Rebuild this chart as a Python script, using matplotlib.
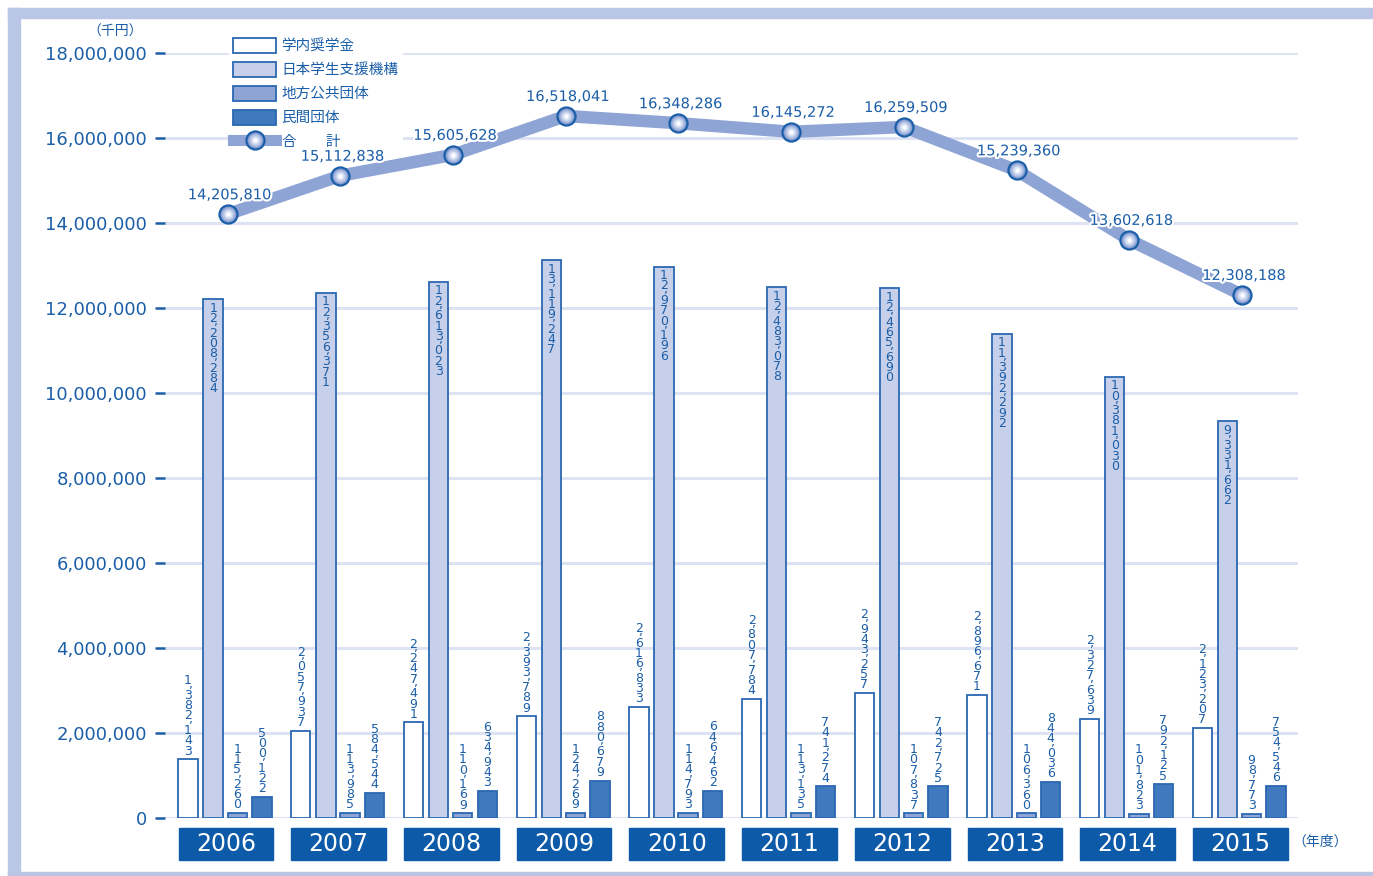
import matplotlib
matplotlib.use("Agg")
import matplotlib.pyplot as plt
from matplotlib.patches import Rectangle, Patch
from matplotlib.lines import Line2D
from matplotlib.legend_handler import HandlerTuple
import matplotlib.patheffects as pe
import matplotlib.transforms as mtransforms

plt.rcParams["font.family"] = ["DejaVu Sans", "Noto Sans CJK JP"]

# データ（千円）
years = ["2006", "2007", "2008", "2009", "2010", "2011", "2012", "2013", "2014", "2015"]
gakunai = [1382143, 2057937, 2247491, 2393789, 2616833, 2807784, 2943257, 2896671, 2327639, 2123207]
jasso = [12208284, 12356371, 12613023, 13119247, 12970196, 12483078, 12465690, 11392292, 10381030, 9331662]
chiho = [115260, 113985, 110169, 124269, 114793, 113135, 107837, 106360, 101823, 98773]
minkan = [500122, 584544, 634943, 880679, 646462, 741274, 742725, 844036, 792125, 754546]
total = [14205810, 15112838, 15605628, 16518041, 16348286, 16145272, 16259509, 15239360, 13602618, 12308188]

series_names = ["学内奨学金", "日本学生支援機構", "地方公共団体", "民間団体"]
total_name = "合\u3000\u3000計"

BLUE = "#1b5ea8"
EDGE = "#2a68b2"
FILLS = ["#ffffff", "#c6d0ea", "#8ea4d5", "#4179be"]
LINE_C = "#8ea4d5"
GRID_C = "#dde3f2"
FRAME_C = "#b9c6e6"
YEARBOX_C = "#0c5aa8"


def stacked_label(ax, x, y, s, inside=False):
    """数字を縦に一文字ずつ積む"""
    steps = [4.5 if c == "," else 10.2 for c in s]
    cur = -3 if inside else 4 + sum(steps)
    for c, st in zip(s, steps):
        if c == ",":
            ax.annotate(c, (x, y), xytext=(2.5, cur - 2.5), textcoords="offset pixels",
                        ha="center", va="baseline", fontsize=9, color=BLUE, zorder=3)
        else:
            ax.annotate(c, (x, y), xytext=(0, cur - 9.5), textcoords="offset pixels",
                        ha="center", va="baseline", fontsize=9, color=BLUE, zorder=3)
        cur -= st


fig = plt.figure(figsize=(13.73, 8.76), dpi=100)

# 外枠
fig.patches.append(Rectangle((8 / 1373, 1 - 18 / 876), 1, 10 / 876, transform=fig.transFigure,
                             color=FRAME_C, zorder=0))
fig.patches.append(Rectangle((8 / 1373, 0), 12 / 1373, 1 - 8 / 876, transform=fig.transFigure,
                             color=FRAME_C, zorder=0))
fig.patches.append(Rectangle((8 / 1373, 0), 1, 4 / 876, transform=fig.transFigure,
                             color=FRAME_C, zorder=0))

ax = fig.add_axes([165 / 1373, 58 / 876, 1133 / 1373, 765 / 876])
ax.set_xlim(-0.541, 9.512)
ax.set_ylim(0, 18000000)
for sp in ax.spines.values():
    sp.set_visible(False)

yt = list(range(0, 18000001, 2000000))
ax.set_yticks(yt)
ax.set_yticklabels([f"{v:,}" for v in yt], fontsize=13, color=BLUE)
ax.tick_params(axis="y", length=7, width=1.8, color=BLUE, pad=6)
ax.set_xticks([])
for v in yt:
    ax.axhline(v, color=GRID_C, lw=2.2, zorder=0)

# 棒グラフ
offsets = [-0.336, -0.114, 0.101, 0.318]
width = 0.172
data = [gakunai, jasso, chiho, minkan]
for k, vals in enumerate(data):
    xs = [i + offsets[k] for i in range(len(years))]
    ax.bar(xs, vals, width=width, color=FILLS[k], edgecolor=EDGE, linewidth=1.3, zorder=2)
    for x, v in zip(xs, vals):
        stacked_label(ax, x, v, f"{v:,}", inside=(k == 1))

# 合計の折れ線
xl = [i + 0.015 for i in range(len(years))]
ax.plot(xl, total, color=LINE_C, lw=9, solid_capstyle="butt", zorder=3)
marker_layers = [(13, "#8aa1d3", BLUE, 1.6), (9, "#b4c3e6", "none", 0), (6, "#dae2f4", "none", 0),
                 (3, "#ffffff", "none", 0)]
for ms, fc, ec, mew in marker_layers:
    ax.plot(xl, total, ls="none", marker="o", ms=ms, mfc=fc, mec=ec, mew=mew, zorder=4)
for x, v in zip(xl, total):
    ax.annotate(f"{v:,}", (x, v), xytext=(2, 12), textcoords="offset pixels", ha="center",
                va="bottom", fontsize=10.5, color=BLUE, zorder=6,
                path_effects=[pe.withStroke(linewidth=3, foreground="white")])

# 年度ボックス
trans = mtransforms.blended_transform_factory(ax.transData, ax.transAxes)
for i, yr in enumerate(years):
    ax.add_patch(Rectangle((i - 0.42, -0.0549), 0.84, 0.0418, transform=trans,
                           color=YEARBOX_C, clip_on=False))
    ax.text(i, -0.034, yr, transform=trans, ha="center", va="center", fontsize=17,
            color="white")

fig.text(115 / 1373, 1 - 32 / 876, "（千円）", ha="center", va="center", fontsize=10, color=BLUE)
fig.text(1320 / 1373, 1 - 842 / 876, "（年度）", ha="center", va="center", fontsize=10, color=BLUE)

# 凡例
handles = [Patch(facecolor=FILLS[k], edgecolor=EDGE, linewidth=1.3) for k in range(4)]
line_h = Line2D([], [], color=LINE_C, lw=8)
mk_h = [Line2D([], [], ls="none", marker="o", ms=ms, mfc=fc, mec=ec, mew=mew)
        for ms, fc, ec, mew in marker_layers]
handles.append(tuple([line_h] + mk_h))
leg = ax.legend(handles, series_names + [total_name], loc="upper left",
                bbox_to_anchor=(0.0565, 1.025), borderaxespad=0, fontsize=10.5,
                handlelength=2.9, handleheight=1.16, labelspacing=0.6, handletextpad=0.4,
                borderpad=0.3, frameon=True, fancybox=False,
                handler_map={tuple: HandlerTuple(ndivide=1)})
leg.get_frame().set_facecolor("white")
leg.get_frame().set_edgecolor("none")
leg.get_frame().set_alpha(1)
leg.set_zorder(1.5)
for t in leg.get_texts():
    t.set_color(BLUE)

fig.savefig("out.png", dpi=100)
